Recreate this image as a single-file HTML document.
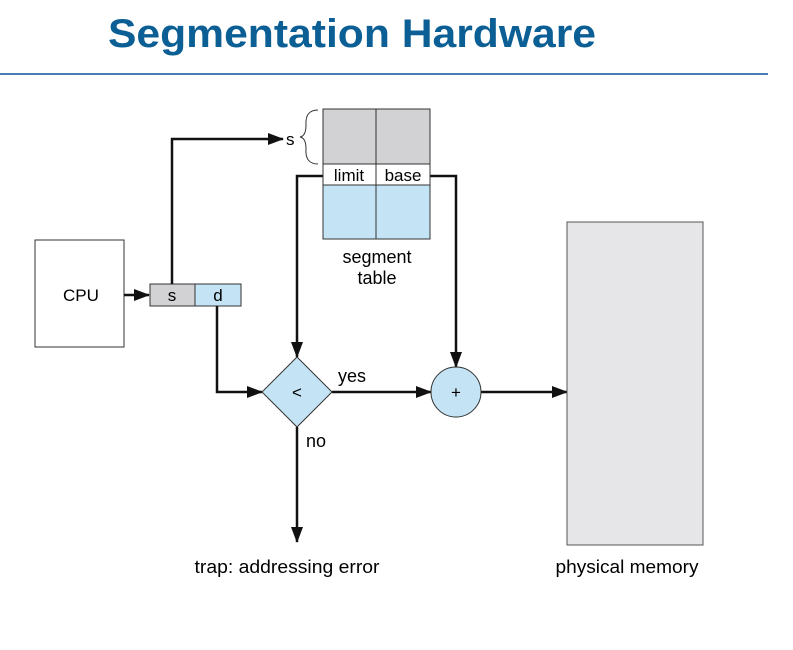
<!DOCTYPE html>
<html><head><style>body{margin:0;background:#fff}svg{display:block}</style></head>
<body>
<svg width="793" height="650" viewBox="0 0 793 650" xmlns="http://www.w3.org/2000/svg" font-family="Liberation Sans, Arial, sans-serif">
<defs><marker id="a" markerWidth="16" markerHeight="12" refX="15" refY="6" orient="auto" markerUnits="userSpaceOnUse"><path d="M0,0 L16,6 L0,12 z" fill="#111"/></marker></defs>
<text x="108" y="47" font-size="40" font-weight="bold" fill="#0b5f94" textLength="488" lengthAdjust="spacingAndGlyphs">Segmentation Hardware</text>
<line x1="0" y1="74" x2="768" y2="74" stroke="#4a7db5" stroke-width="2"/>
<rect x="35" y="240" width="89" height="107" fill="#fff" stroke="#333"/>
<text x="81" y="301" font-size="17" text-anchor="middle" textLength="36" lengthAdjust="spacingAndGlyphs">CPU</text>
<rect x="150" y="284" width="45" height="22" fill="#d2d2d4" stroke="#333"/>
<rect x="195" y="284" width="46" height="22" fill="#c4e4f6" stroke="#333"/>
<text x="172" y="301" font-size="17" text-anchor="middle">s</text>
<text x="218" y="301" font-size="17" text-anchor="middle">d</text>
<g fill="none" stroke="#111" stroke-width="2.5">
<line x1="124" y1="295" x2="149" y2="295" marker-end="url(#a)"/>
<polyline points="172,284 172,139 283,139" marker-end="url(#a)"/>
<polyline points="323,176 297,176 297,357" marker-end="url(#a)"/>
<polyline points="217,306 217,392 262,392" marker-end="url(#a)"/>
<polyline points="430,176 456,176 456,367" marker-end="url(#a)"/>
<line x1="332" y1="392" x2="431" y2="392" marker-end="url(#a)"/>
<line x1="481" y1="392" x2="567" y2="392" marker-end="url(#a)"/>
<line x1="297" y1="427" x2="297" y2="542" marker-end="url(#a)"/>
</g>
<text x="286" y="145" font-size="17">s</text>
<path d="M318,110 Q305,110 306,125 Q306,136 300,137 Q306,138 306,149 Q305,164 318,164" fill="none" stroke="#333" stroke-width="1"/>
<rect x="323" y="109" width="107" height="55" fill="#d2d2d4" stroke="#333"/>
<rect x="323" y="164" width="107" height="21" fill="#fff" stroke="#333"/>
<rect x="323" y="185" width="107" height="54" fill="#c4e4f6" stroke="#333"/>
<line x1="376" y1="109" x2="376" y2="239" stroke="#333"/>
<text x="349" y="181" font-size="17" text-anchor="middle">limit</text>
<text x="403" y="181" font-size="17" text-anchor="middle">base</text>
<text x="377" y="263" font-size="18" text-anchor="middle">segment</text>
<text x="377" y="284" font-size="18" text-anchor="middle">table</text>
<polygon points="297,357 332,392 297,427 262,392" fill="#c4e4f6" stroke="#333"/>
<text x="297" y="398" font-size="17" text-anchor="middle">&lt;</text>
<text x="338" y="382" font-size="18">yes</text>
<text x="306" y="447" font-size="18">no</text>
<circle cx="456" cy="392" r="25" fill="#c4e4f6" stroke="#333"/>
<text x="456" y="398" font-size="17" text-anchor="middle">+</text>
<rect x="567" y="222" width="136" height="323" fill="#e6e6e8" stroke="#555"/>
<text x="287" y="573" font-size="18" text-anchor="middle" textLength="185" lengthAdjust="spacingAndGlyphs">trap: addressing error</text>
<text x="627" y="573" font-size="18" text-anchor="middle" textLength="143" lengthAdjust="spacingAndGlyphs">physical memory</text>
</svg>
</body></html>
